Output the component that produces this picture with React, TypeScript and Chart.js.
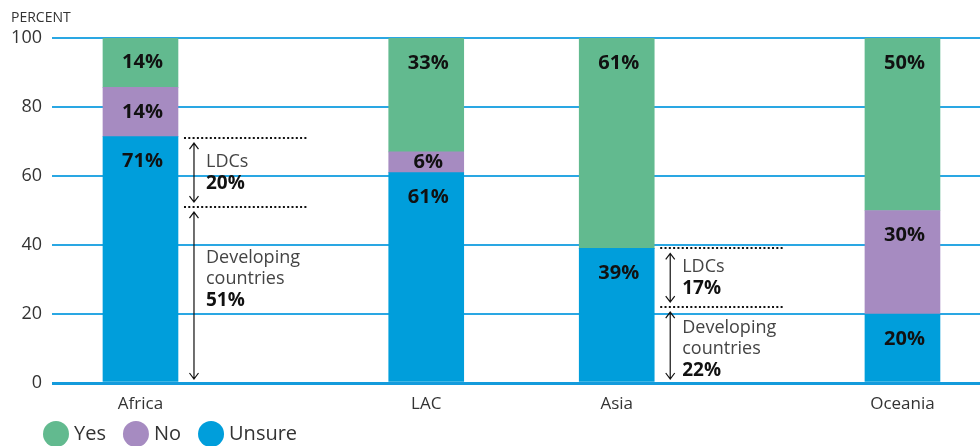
import React, { useEffect, useRef } from 'react';
import { Chart, registerables } from 'chart.js';

Chart.register(...registerables);

// ---- data ----
const categories = ['Africa', 'LAC', 'Asia', 'Oceania'];
const slotPositions = [1, 4, 6, 9];
const seriesNames = ['Yes', 'No', 'Unsure'];
const yesValues = [14.3, 33, 61, 50];
const noValues = [14.3, 6, 0, 30];
const unsureValues = [71.4, 61, 39, 20];
const yTickValues = [0, 20, 40, 60, 80, 100];

const annotatedRegions = ['Africa', 'Asia'];
const developingShare = [51, 22];
const ldcShare = [20, 17];

// ---- styles ----
const FONT = '"Open Sans", "Noto Sans", sans-serif';
const seriesColors: Record<string, string> = {
  Yes: '#62ba8f',
  No: '#a68bc1',
  Unsure: '#009edb',
};
const GRID = '#2aa7e3';
const ZERO = '#149bdc';
const TEXT = '#333333';

const barLabelPlugin = {
  id: 'barLabels',
  afterDatasetsDraw(chart: any) {
    const ctx = chart.ctx;
    ctx.save();
    ctx.font = `bold 20px ${FONT}`;
    ctx.fillStyle = '#111111';
    ctx.textAlign = 'center';
    ctx.textBaseline = 'middle';
    chart.data.datasets.forEach((ds: any, di: number) => {
      const meta = chart.getDatasetMeta(di);
      meta.data.forEach((el: any, i: number) => {
        const v = ds.data[i].y;
        if (!v) return;
        const top = Math.min(el.y, el.base);
        const bottom = Math.max(el.y, el.base);
        const y = Math.min(top + 25, (top + bottom) / 2);
        ctx.fillText(`${Math.round(v)}%`, el.x + 2, y);
      });
    });
    ctx.restore();
  },
};

const annotationPlugin = {
  id: 'annotations',
  afterDatasetsDraw(chart: any) {
    const ctx = chart.ctx;
    const yScale = chart.scales.y;
    const meta = chart.getDatasetMeta(0);
    ctx.save();
    annotatedRegions.forEach((region, k) => {
      const idx = categories.indexOf(region);
      const el: any = meta.data[idx];
      const right = el.x + el.width / 2;
      const y0 = yScale.getPixelForValue(0);
      const yDev = yScale.getPixelForValue(developingShare[k]);
      const yLdc = yScale.getPixelForValue(developingShare[k] + ldcShare[k]);

      // dotted lines
      ctx.strokeStyle = '#111111';
      ctx.lineWidth = 2;
      ctx.setLineDash([2, 2.3]);
      [yLdc, yDev].forEach((yy) => {
        ctx.beginPath();
        ctx.moveTo(right + 6, Math.round(yy));
        ctx.lineTo(right + 130, Math.round(yy));
        ctx.stroke();
      });
      ctx.setLineDash([]);

      // arrows
      const ax = right + 16;
      ctx.lineWidth = 1.2;
      const arrow = (ya: number, yb: number) => {
        ctx.beginPath();
        ctx.moveTo(ax, ya);
        ctx.lineTo(ax, yb);
        ctx.moveTo(ax - 4.5, ya + 6);
        ctx.lineTo(ax, ya);
        ctx.lineTo(ax + 4.5, ya + 6);
        ctx.moveTo(ax - 4.5, yb - 6);
        ctx.lineTo(ax, yb);
        ctx.lineTo(ax + 4.5, yb - 6);
        ctx.stroke();
      };
      arrow(yLdc + 5, yDev - 5);
      arrow(yDev + 5, y0 - 4);

      // texts
      const tx = right + 28;
      const lh = 21.5;
      ctx.textAlign = 'left';
      ctx.textBaseline = 'middle';
      const ldcCenter = (yLdc + yDev) / 2;
      ctx.font = `18px ${FONT}`;
      ctx.fillStyle = '#444444';
      ctx.fillText('LDCs', tx, ldcCenter - lh / 2);
      ctx.font = `bold 19px ${FONT}`;
      ctx.fillStyle = '#111111';
      ctx.fillText(`${ldcShare[k]}%`, tx, ldcCenter + lh / 2);

      const devCenter = Math.min((yDev + y0) / 2 + 4, yDev + 72);
      ctx.font = `18px ${FONT}`;
      ctx.fillStyle = '#444444';
      ctx.fillText('Developing', tx, devCenter - lh);
      ctx.fillText('countries', tx, devCenter);
      ctx.font = `bold 19px ${FONT}`;
      ctx.fillStyle = '#111111';
      ctx.fillText(`${developingShare[k]}%`, tx, devCenter + lh);
    });
    ctx.restore();
  },
};

const decorPlugin = {
  id: 'decor',
  afterDraw(chart: any) {
    const ctx = chart.ctx;
    ctx.save();
    // axis title
    ctx.font = `14px ${FONT}`;
    ctx.fillStyle = TEXT;
    ctx.textAlign = 'left';
    ctx.textBaseline = 'middle';
    ctx.fillText('PERCENT', 11, 18);

    // legend
    ctx.font = `20px ${FONT}`;
    let x = 43;
    const cy = 434;
    seriesNames.forEach((name) => {
      ctx.fillStyle = seriesColors[name];
      ctx.beginPath();
      ctx.arc(x + 13, cy, 13, 0, Math.PI * 2);
      ctx.fill();
      ctx.fillStyle = TEXT;
      ctx.fillText(name, x + 31, cy);
      x = x + 31 + ctx.measureText(name).width + 17;
    });
    ctx.restore();
  },
};

export default function App() {
  const ref = useRef<HTMLCanvasElement | null>(null);

  useEffect(() => {
    document.body.style.margin = '0';
    const canvas = ref.current;
    if (!canvas) return;

    const mk = (vals: number[]) => vals.map((v, i) => ({ x: slotPositions[i], y: v }));
    const datasets = [
      { label: 'Unsure', data: mk(unsureValues), backgroundColor: seriesColors.Unsure },
      { label: 'No', data: mk(noValues), backgroundColor: seriesColors.No },
      { label: 'Yes', data: mk(yesValues), backgroundColor: seriesColors.Yes },
    ].map((d) => ({ ...d, barThickness: 75, borderWidth: 0 }));

    const chart = new Chart(canvas, {
      type: 'bar',
      data: { datasets } as any,
      options: {
        responsive: false,
        animation: false,
        layout: { padding: { top: 38, left: 0, right: 0, bottom: 0 } },
        plugins: {
          legend: { display: false },
          tooltip: { enabled: false },
        },
        scales: {
          x: {
            type: 'linear',
            stacked: true,
            offset: false,
            min: 0.071,
            max: 9.814,
            grid: { display: false, drawTicks: false, offset: false },
            border: { display: false },
            afterBuildTicks: (scale: any) => {
              scale.ticks = slotPositions.map((v) => ({ value: v }));
            },
            afterFit: (scale: any) => {
              scale.height = 63;
            },
            ticks: {
              autoSkip: false,
              maxRotation: 0,
              padding: 11,
              color: TEXT,
              font: { family: FONT, size: 17 },
              callback: (value: any) => {
                const i = slotPositions.indexOf(Number(value));
                return i >= 0 ? categories[i] : '';
              },
            },
          },
          y: {
            stacked: true,
            min: 0,
            max: 100,
            afterBuildTicks: (scale: any) => {
              scale.ticks = yTickValues.map((v) => ({ value: v }));
            },
            afterFit: (scale: any) => {
              scale.width = 52;
            },
            grid: {
              drawTicks: false,
              color: (c: any) => (c.tick && c.tick.value === 0 ? ZERO : GRID),
              lineWidth: (c: any) => (c.tick && c.tick.value === 0 ? 3 : 2),
            },
            border: { display: false },
            ticks: {
              padding: 10,
              color: TEXT,
              font: { family: FONT, size: 18 },
            },
          },
        },
      } as any,
      plugins: [barLabelPlugin, annotationPlugin, decorPlugin],
    });

    return () => chart.destroy();
  }, []);

  return (
    <div style={{ width: 980, height: 446, background: '#ffffff' }}>
      <canvas ref={ref} width={980} height={446} />
    </div>
  );
}
